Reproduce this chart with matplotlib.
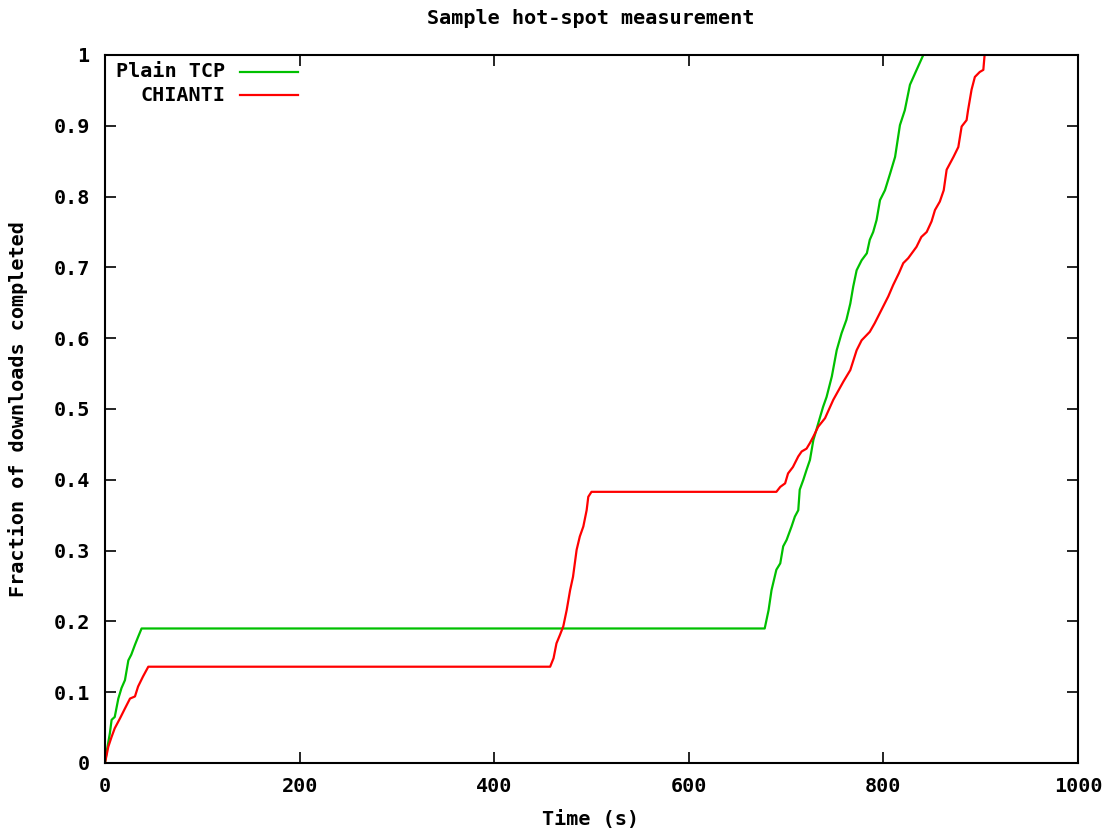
import matplotlib
matplotlib.use("Agg")
import matplotlib.pyplot as plt

# CDF of download completion times, read as (time, fraction) breakpoints
tcp_t = [0, 1.7, 5, 6.8, 10, 13.7, 17, 20.5, 24, 27, 30.8, 34, 37.6,
         678, 682, 685, 690, 694, 697, 700.5, 705.6, 709, 712.5, 714, 717.7,
         721, 724.5, 728, 731, 735, 738, 741.6, 747, 752, 757, 762, 766, 769,
         772.5, 777.6, 783, 786, 789.5, 793, 796.5, 801.6, 807, 812, 817, 822,
         827.3, 832.5, 841]
tcp_f = [0, 0.016, 0.042, 0.061, 0.065, 0.091, 0.106, 0.117, 0.145, 0.153, 0.167, 0.178, 0.19,
         0.19, 0.216, 0.244, 0.273, 0.282, 0.306, 0.315, 0.334, 0.348, 0.357, 0.386, 0.40,
         0.414, 0.428, 0.456, 0.47, 0.489, 0.503, 0.517, 0.546, 0.583, 0.607, 0.626, 0.649, 0.673,
         0.696, 0.71, 0.72, 0.739, 0.75, 0.767, 0.795, 0.809, 0.833, 0.856, 0.901, 0.922,
         0.958, 0.974, 1.0]

chianti_t = [0, 3.4, 6.8, 10, 15.4, 20.5, 25.7, 30.8, 34, 39, 44.5,
             457.5, 461, 464, 467.6, 471, 474.5, 478, 481, 484.7, 488, 491.6, 495, 496.7, 500,
             690, 694, 699, 702, 707, 712.5, 716, 721, 724.5, 728, 733, 740, 748.5, 759, 766,
             772.5, 777.6, 786, 791, 798, 805, 810, 816, 820.4, 825.5, 834, 839, 844.5, 849.5,
             853, 858, 862, 865, 872, 877, 880.4, 885.5, 887, 890.6, 894, 899, 902.7, 904]
chianti_f = [0, 0.023, 0.037, 0.049, 0.063, 0.077, 0.091, 0.094, 0.108, 0.122, 0.136,
             0.136, 0.148, 0.169, 0.181, 0.193, 0.216, 0.244, 0.263, 0.301, 0.32, 0.334, 0.357, 0.376, 0.383,
             0.383, 0.39, 0.395, 0.409, 0.418, 0.433, 0.44, 0.444, 0.452, 0.461, 0.475, 0.487, 0.513, 0.539, 0.555,
             0.583, 0.597, 0.609, 0.621, 0.64, 0.659, 0.675, 0.692, 0.706, 0.713, 0.729, 0.743, 0.75, 0.765,
             0.781, 0.793, 0.809, 0.838, 0.856, 0.87, 0.899, 0.908, 0.922, 0.951, 0.969, 0.976, 0.979, 1.0]

x_ticks = [0, 200, 400, 600, 800, 1000]
x_labels = ["0", "200", "400", "600", "800", "1000"]
y_ticks = [0, 0.1, 0.2, 0.3, 0.4, 0.5, 0.6, 0.7, 0.8, 0.9, 1.0]
y_labels = ["0", "0.1", "0.2", "0.3", "0.4", "0.5", "0.6", "0.7", "0.8", "0.9", "1"]

series = [("Plain TCP", tcp_t, tcp_f, "#00c000"),
          ("CHIANTI", chianti_t, chianti_f, "#ff0000")]

font = {"family": "DejaVu Sans Mono", "weight": "bold", "size": 14.5}
plt.rcParams["font.family"] = "DejaVu Sans Mono"
plt.rcParams["font.weight"] = "bold"
plt.rcParams["font.size"] = 14.5

fig = plt.figure(figsize=(11.16, 8.34), dpi=100)
ax = fig.add_axes([105 / 1116, 71 / 834, 973 / 1116, 708 / 834])

for name, t, f, c in series:
    ax.plot(t, f, color=c, linewidth=1.6)

ax.set_xlim(0, 1000)
ax.set_ylim(0, 1)
ax.set_xticks(x_ticks)
ax.set_xticklabels(x_labels)
ax.set_yticks(y_ticks)
ax.set_yticklabels(y_labels)
ax.tick_params(direction="in", length=8, width=1.2, top=True, right=True)
ax.tick_params(axis="y", pad=11)
ax.tick_params(axis="x", pad=10)
for s in ax.spines.values():
    s.set_linewidth(1.5)

# gnuplot-style key: right-aligned titles with line samples after them
for i, (name, t, f, c) in enumerate(series):
    y = 0.976 - i * 0.0325
    ax.text(0.1233, y, name, transform=ax.transAxes, ha="right", va="center", **font)
    ax.plot([0.1387, 0.1984], [y, y], transform=ax.transAxes, color=c, linewidth=1.6)

fig.text(591 / 1116, 1 - 18 / 834, "Sample hot-spot measurement", ha="center", va="center", **font)
fig.text(591 / 1116, 1 - 820 / 834, "Time (s)", ha="center", va="center", **font)
fig.text(18 / 1116, 1 - 409 / 834, "Fraction of downloads completed", ha="center", va="center",
         rotation=90, **font)

fig.savefig("out.png", dpi=100)
